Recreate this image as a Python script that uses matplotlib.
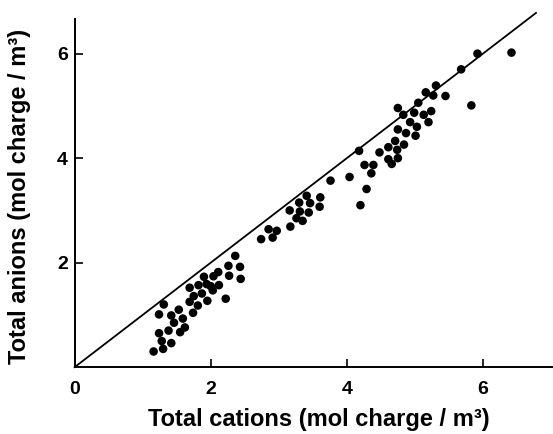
import matplotlib
matplotlib.use("Agg")
import matplotlib.pyplot as plt
import numpy as np

# total cations vs total anions (mol charge / m3)
cations = [1.16, 1.30, 1.24, 1.24, 1.31, 1.28, 1.38, 1.42, 1.42, 1.46,
           1.53, 1.55, 1.59, 1.62, 1.69, 1.69, 1.74, 1.75, 1.81, 1.82,
           1.87, 1.90, 1.94, 1.95, 2.00, 2.03, 2.04, 2.11, 2.12, 2.22,
           2.26, 2.27, 2.36, 2.43, 2.44, 2.74, 2.85, 2.91, 2.97, 3.16,
           3.17, 3.26, 3.30, 3.31, 3.35, 3.41, 3.46, 3.44, 3.61, 3.60,
           3.76, 4.04, 4.18, 4.20, 4.26, 4.29, 4.36, 4.39, 4.48, 4.61,
           4.61, 4.66, 4.71, 4.74, 4.75, 4.75, 4.75, 4.83, 4.84, 4.87,
           4.93, 4.99, 5.01, 5.03, 5.05, 5.13, 5.16, 5.20, 5.24, 5.27,
           5.31, 5.45, 5.68, 5.83, 5.92, 6.42]
anions = [0.30, 0.35, 0.65, 1.01, 1.20, 0.50, 0.70, 0.46, 0.99, 0.85,
          1.10, 0.67, 0.93, 0.76, 1.25, 1.52, 1.04, 1.36, 1.18, 1.57,
          1.41, 1.73, 1.59, 1.27, 1.55, 1.47, 1.74, 1.82, 1.57, 1.31,
          1.94, 1.75, 2.13, 1.92, 1.69, 2.45, 2.64, 2.48, 2.61, 3.00,
          2.69, 2.85, 3.15, 2.98, 2.80, 3.28, 3.14, 2.96, 3.25, 3.07,
          3.57, 3.64, 4.14, 3.10, 3.87, 3.41, 3.71, 3.87, 4.11, 4.21,
          3.98, 3.89, 4.33, 4.16, 4.55, 4.00, 4.96, 4.83, 4.26, 4.48,
          4.69, 4.87, 4.43, 4.60, 5.06, 4.83, 5.26, 4.69, 4.90, 5.20,
          5.39, 5.19, 5.70, 5.01, 6.00, 6.02]

one_to_one = [0, 6.78]

plt.rcParams["font.family"] = ["Liberation Sans", "DejaVu Sans"]
narrow = ["Liberation Sans Narrow", "Liberation Sans", "DejaVu Sans"]

fig = plt.figure(figsize=(5.53, 4.34), dpi=100)
ax = fig.add_axes([0.135, 0.154, 0.865, 0.803])

ax.plot(one_to_one, one_to_one, color="black", lw=1.3, clip_on=False)
ax.scatter(cations, anions, s=38, color="black", edgecolors="none", zorder=3)

ax.set_xlim(0, 7.03)
ax.set_ylim(0, 6.67)
ax.set_xticks([0, 2, 4, 6])
ax.set_yticks([2, 4, 6])
ax.spines["top"].set_visible(False)
ax.spines["right"].set_visible(False)
ax.spines["left"].set_linewidth(1.4)
ax.spines["bottom"].set_linewidth(1.4)
ax.tick_params(axis="x", direction="in", length=6, width=1.2, pad=10,
               labelsize=14)
ax.tick_params(axis="y", direction="in", length=6, width=1.2, pad=5,
               labelsize=14)
for lab in ax.get_xticklabels() + ax.get_yticklabels():
    lab.set_fontweight("bold")
    lab.set_family(narrow)

ax.set_xlabel("Total cations (mol charge / m³)", fontsize=17,
              fontweight="bold", va="center")
ax.set_ylabel("Total anions (mol charge / m³)", fontsize=17,
              fontweight="bold", va="center")
ax.xaxis.set_label_coords(0.51, -0.149)
ax.yaxis.set_label_coords(-0.115, 0.49)

fig.savefig("out.png", dpi=100)
